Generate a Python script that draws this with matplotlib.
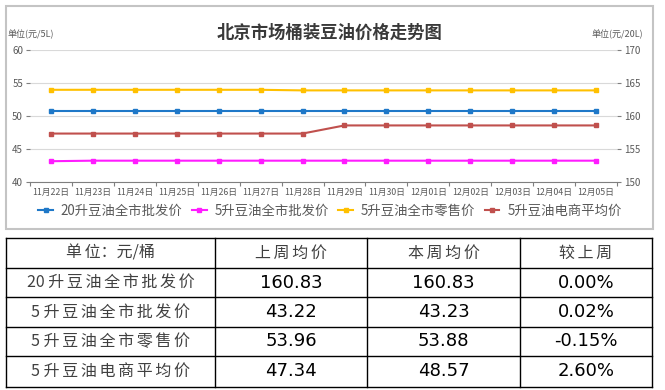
import numpy as np
import matplotlib.pyplot as plt
from matplotlib.patches import Rectangle

plt.rcParams['font.family'] = ['Noto Sans CJK SC', 'DejaVu Sans']


dates = ["11月22日", "11月23日", "11月24日", "11月25日", "11月26日",
         "11月27日", "11月28日", "11月29日", "11月30日", "12月01日",
         "12月02日", "12月03日", "12月04日", "12月05日"]

# 20升 (right axis)
wholesale_20 = [160.83, 160.83, 160.83, 160.83, 160.83, 160.83, 160.83,
                160.83, 160.83, 160.83, 160.83, 160.83, 160.83, 160.83]
# 5升 (left axis)
wholesale_5 = [43.15, 43.23, 43.23, 43.23, 43.23, 43.23, 43.23,
               43.23, 43.23, 43.23, 43.23, 43.23, 43.23, 43.23]
retail_5 = [53.97, 53.97, 53.97, 53.97, 53.97, 53.97, 53.88,
            53.88, 53.88, 53.88, 53.88, 53.88, 53.88, 53.88]
online_5 = [47.34, 47.34, 47.34, 47.34, 47.34, 47.34, 47.34,
            48.57, 48.57, 48.57, 48.57, 48.57, 48.57, 48.57]

names = ["20升豆油全市批发价", "5升豆油全市批发价",
         "5升豆油全市零售价", "5升豆油电商平均价"]

# table
table_head = ["单位：元/桶", "上周均价", "本周均价", "较上周"]
last_week = [160.83, 43.22, 53.96, 47.34]
this_week = [160.83, 43.23, 53.88, 48.57]

W, H = 665, 390


def rect(x0, y0, x1, y1):
    # pixel box (top-left origin) -> figure fraction
    return [x0 / W, 1 - y1 / H, (x1 - x0) / W, (y1 - y0) / H]


def spaced(s):
    # widen the CJK text a little like the original table
    return "\u2006".join(s)


fig = plt.figure(figsize=(W / 100, H / 100), dpi=100)

fig.patches.append(Rectangle((6 / W, 1 - 229 / H), 647 / W, 223 / H,
                             transform=fig.transFigure, fill=False,
                             edgecolor="#c4c4c4", lw=1.5))

ax = fig.add_axes(rect(30, 50, 617, 182))
ax2 = ax.twinx()

x = np.arange(len(dates))

l1, = ax2.plot(x, wholesale_20, color="#1f78c8", lw=1.5,
               marker="s", ms=3, label=names[0])
l2, = ax.plot(x, wholesale_5, color="#ff1cff", lw=1.5,
              marker="s", ms=3, label=names[1])
l3, = ax.plot(x, retail_5, color="#ffc000", lw=1.5,
              marker="s", ms=3, label=names[2])
l4, = ax.plot(x, online_5, color="#c0504d", lw=1.5,
              marker="s", ms=3, label=names[3])

ax.set_xlim(-0.5, len(dates) - 0.5)
ax.set_ylim(40, 60)
ax2.set_ylim(150, 170)
ax.set_yticks(range(40, 61, 5))
ax2.set_yticks(range(150, 171, 5))

ax.set_xticks(np.arange(-0.5, len(dates), 1))
ax.set_xticklabels([])
ax.set_xticks(x, minor=True)
ax.set_xticklabels(dates, minor=True)
ax.tick_params(axis="x", which="major", length=3, color="#7f7f7f")
ax.tick_params(axis="x", which="minor", length=0, labelsize=6.3,
               labelcolor="#595959", pad=4)

ax.tick_params(axis="y", length=3, color="#7f7f7f", labelsize=7,
               labelcolor="#595959", pad=2)
ax2.tick_params(axis="y", length=3, color="#7f7f7f", labelsize=7,
                labelcolor="#595959", pad=2)

for a in (ax, ax2):
    for side in ("left", "right", "top", "bottom"):
        a.spines[side].set_visible(False)
ax.spines["bottom"].set_visible(True)
ax.spines["bottom"].set_color("#7f7f7f")

ax.grid(axis="y", color="#d9d9d9", lw=0.8)
ax.set_axisbelow(True)

fig.text(330 / W, 1 - 33 / H, "北京市场桶装豆油价格走势图", fontsize=12.5,
         fontweight="bold", color="#3a3a3a", ha="center", va="center")
fig.text(7 / W, 1 - 34 / H, "单位(元/5L)", fontsize=6.5, color="#595959",
         ha="left", va="center")
fig.text(643 / W, 1 - 34 / H, "单位(元/20L)", fontsize=6.5, color="#595959",
         ha="right", va="center")

fig.legend(handles=[l1, l2, l3, l4], loc="center", ncol=4,
           bbox_to_anchor=(330 / W, 1 - 211 / H), frameon=False,
           fontsize=9.6, handlelength=1.1, handletextpad=0.6,
           columnspacing=0.7, labelcolor="#595959")

# table
tax = fig.add_axes(rect(6, 238, 652, 387))
tax.set_xlim(6, 652)
tax.set_ylim(387, 238)
tax.axis("off")

cols = [6, 215, 367, 520, 652]
rows = [238, 268, 297, 327, 356, 387]
for cx in cols:
    tax.plot([cx, cx], [rows[0], rows[-1]], color="black", lw=1, clip_on=False)
for ry in rows:
    tax.plot([cols[0], cols[-1]], [ry, ry], color="black", lw=1, clip_on=False)

cx_mid = [(cols[i] + cols[i + 1]) / 2 for i in range(4)]
ry_mid = [(rows[i] + rows[i + 1]) / 2 for i in range(5)]

tax.text(cx_mid[0], ry_mid[0], "单\u2006位：元/桶", fontsize=11.5,
         color="#404040", ha="center", va="center")
for j in range(1, 4):
    tax.text(cx_mid[j], ry_mid[0], spaced(table_head[j]), fontsize=11.5,
             color="#404040", ha="center", va="center")

row_labels = ["20 " + spaced("升豆油全市批发价"),
              "5 " + spaced("升豆油全市批发价"),
              "5 " + spaced("升豆油全市零售价"),
              "5 " + spaced("升豆油电商平均价")]

for i in range(4):
    change = (this_week[i] - last_week[i]) / last_week[i] * 100
    y = ry_mid[i + 1]
    tax.text(cx_mid[0], y, row_labels[i], fontsize=11.5, color="#404040",
             ha="center", va="center")
    tax.text(cx_mid[1], y, f"{last_week[i]:.2f}", fontsize=13,
             family="DejaVu Sans", ha="center", va="center")
    tax.text(cx_mid[2], y, f"{this_week[i]:.2f}", fontsize=13,
             family="DejaVu Sans", ha="center", va="center")
    tax.text(cx_mid[3], y, f"{change:.2f}%", fontsize=13,
             family="DejaVu Sans", ha="center", va="center")

fig.savefig("out.png", dpi=100)
